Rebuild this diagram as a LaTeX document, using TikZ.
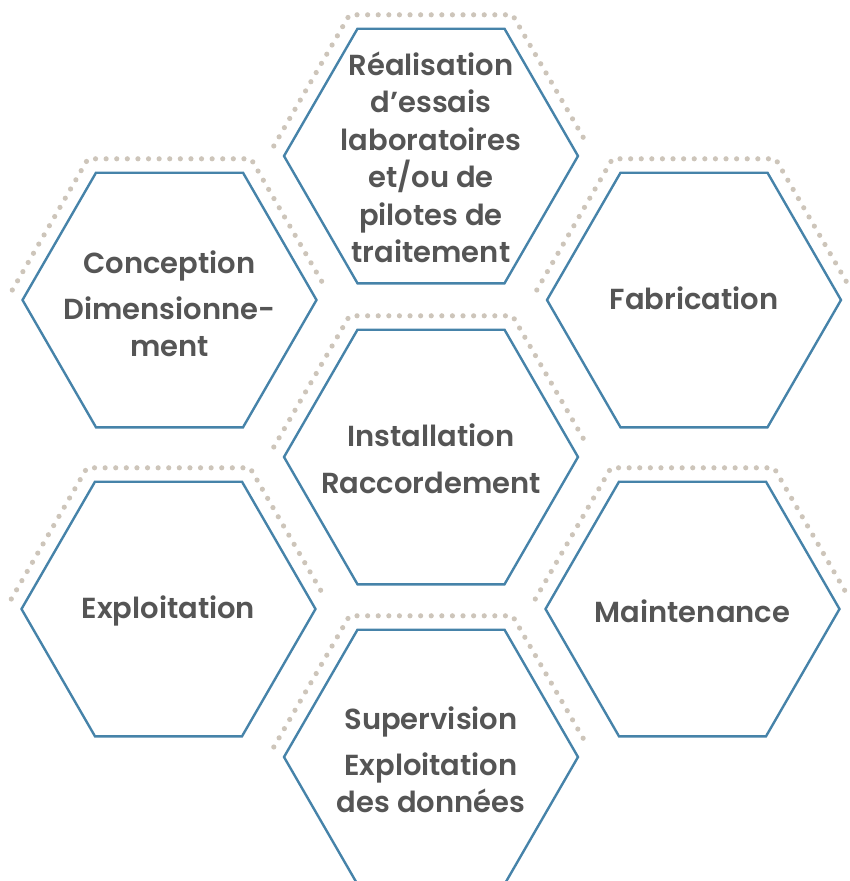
\documentclass[tikz,border=0pt]{standalone}
\usepackage{fontspec}
\setmainfont{Poppins}[UprightFont={* SemiBold}]
\usetikzlibrary{calc}
\definecolor{hexblue}{HTML}{4683A9}
\definecolor{dotgrey}{HTML}{CDC5BA}
\definecolor{txtgrey}{HTML}{555555}
\tikzset{
  hexline/.style={draw=hexblue, line width=2.4pt, line join=miter},
  dotline/.style={draw=dotgrey, line width=5.2pt, line cap=round, dash pattern=on 0pt off 10.6pt},
  hextext/.style={align=center, text=txtgrey, font=\fontsize{29}{37.5}\selectfont, inner sep=0pt},
}
\newcommand\hexcell[5]{%
  \coordinate (#1) at (#2,#3);
  \draw[dotline] ($(#1)+(-157.2,-10)$) -- ++(75.7,-131.2) -- ++(163,0) -- ++(75.7,131.2);
  \draw[hexline] ($(#1)+(-147,0)$) -- ++(73.5,-127.3) -- ++(147,0) -- ++(73.5,127.3) -- ++(-73.5,127.3) -- ++(-147,0) -- cycle;
  \node[hextext] (#1-label) at ($(#1)+(0,#4)$) {#5};
}
\begin{document}
\begin{tikzpicture}[x=1pt,y=-1pt]
\useasboundingbox (0,0) rectangle (849,881);
\clip (0,0) rectangle (849,881);
\hexcell{essais}{431}{156}{1.5}{Réalisation\\d’essais\\laboratoires\\et/ou de\\pilotes de\\traitement}
\hexcell{conception}{169.5}{300}{4}{Conception\\[8pt]Dimensionne-\\ment}
\hexcell{fabrication}{694}{300}{-2}{Fabrication}
\hexcell{installation}{431}{457}{2}{Installation\\[9pt]Raccordement}
\hexcell{exploitation}{168.5}{609}{2}{Exploitation}
\hexcell{maintenance}{692.5}{609}{2}{Maintenance}
\hexcell{supervision}{431}{757}{3}{Supervision\\[8pt]Exploitation\\des données}
\end{tikzpicture}
\end{document}
